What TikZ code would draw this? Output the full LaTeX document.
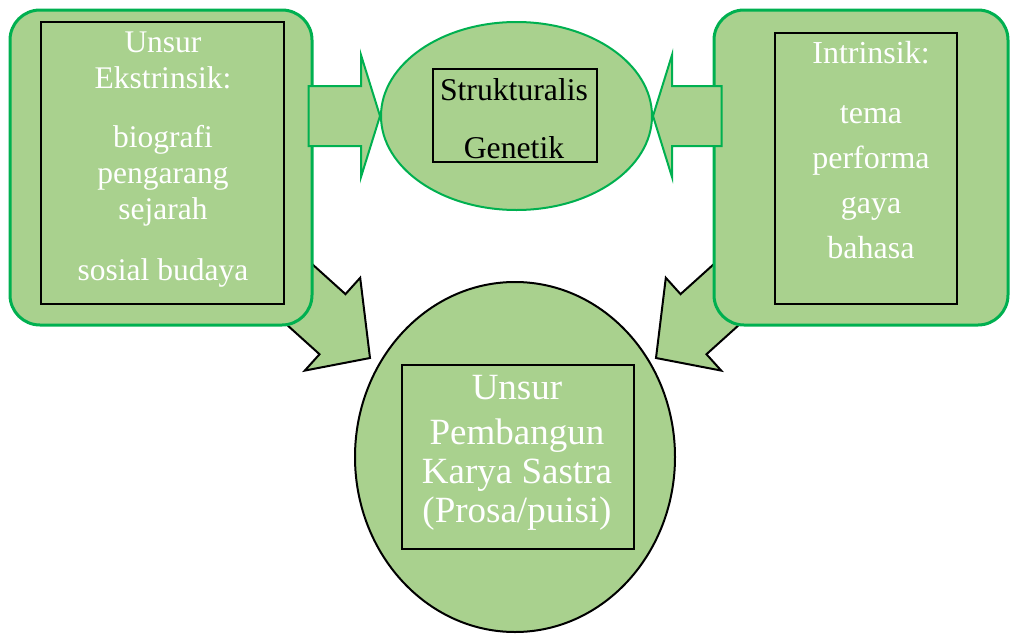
\documentclass[tikz,border=0pt]{standalone}
\usepackage{fontspec}
\setmainfont{Liberation Serif}
\usetikzlibrary{positioning, calc, shapes.geometric, backgrounds}

\definecolor{leafgreen}{HTML}{A9D18E}
\definecolor{rimgreen}{HTML}{00B050}

% block arrow: style, tail, tip, body half width, head half width,
% head length on the left side, head length on the right side
\newcommand{\blockarrow}[7]{%
  \coordinate (ba-p) at ($(#3)!#6!(#2)$);
  \coordinate (ba-m) at ($(#3)!#7!(#2)$);
  \filldraw[#1] ($(#2)!#4!90:(#3)$) -- ($(ba-p)!#4!90:(#3)$)
    -- ($(ba-p)!#5!90:(#3)$) -- (#3) -- ($(ba-m)!#5!-90:(#3)$)
    -- ($(ba-m)!#4!-90:(#3)$) -- ($(#2)!#4!-90:(#3)$) -- cycle;
}

\begin{document}
\begin{tikzpicture}[x=1pt, y=-1pt,
    sidebox/.style={draw=rimgreen, line width=3pt, fill=leafgreen, rounded corners=30pt, inner sep=0pt},
    framebox/.style={draw=black, line width=1.5pt, inner sep=0pt},
    blob/.style={ellipse, fill=leafgreen, line width=2pt, inner sep=0pt},
    whitetext/.style={text=white, align=center, inner sep=0pt, anchor=north},
    greenarrow/.style={fill=leafgreen, draw=rimgreen, line width=2pt},
    blackarrow/.style={fill=leafgreen, draw=black, line width=2pt}]
    \useasboundingbox (0,0) rectangle (1010,635);

    % side boxes
    \node[sidebox, minimum width=302pt, minimum height=315pt] (lbox) at (161,167.5) {};
    \node[framebox, minimum width=243pt, minimum height=282pt] (lframe) at (162.5,163) {};
    \node[whitetext, font=\fontsize{31.5}{36}\selectfont] (ltext) at (163,32)
        {Unsur\\Ekstrinsik:\\[23pt]biografi\\pengarang\\sejarah\\[25pt]sosial budaya};

    \node[sidebox, minimum width=294pt, minimum height=315pt] (rbox) at (861,167.5) {};
    \node[framebox, minimum width=182pt, minimum height=271pt] (rframe) at (866,168.5) {};
    \node[whitetext, font=\fontsize{32}{45}\selectfont] (rtext) at (871,41)
        {Intrinsik:\\[15pt]tema\\performa\\gaya\\bahasa};

    % middle
    \node[blob, draw=rimgreen, minimum width=271pt, minimum height=188pt] (top) at (516.5,116) {};
    \node[framebox, minimum width=164pt, minimum height=93pt] (tframe) at (515,115.5) {};
    \node[whitetext, text=black, font=\fontsize{31.7}{58}\selectfont] (ttext) at (514,78.4)
        {Strukturalis\\Genetik};

    \node[blob, draw=black, minimum width=320pt, minimum height=350pt] (bot) at (515,457) {};
    \node[framebox, minimum width=232pt, minimum height=184pt] (bframe) at (518,457) {};
    \node[whitetext, font=\fontsize{37}{39}\selectfont] (btext) at (517,375.5)
        {Unsur\\[6pt]Pembangun\\Karya Sastra\\(Prosa/puisi)};

    % arrows
    \coordinate (ltail) at ($(lbox.east |- top.west)+(-5,0)$);
    \coordinate (rtail) at ($(rbox.west |- top.east)+(9,0)$);
    \coordinate (ldtail) at ($(lbox.south east)+(-35,-51)$);
    \coordinate (ldtip) at ($(bot.west)+(16,-99)$);
    \coordinate (rdtail) at ($(rbox.south west)+(35,-51)$);
    \coordinate (rdtip) at ($(bot.east)+(-20,-99)$);

    \begin{scope}[on background layer]
        \blockarrow{blackarrow}{ldtail}{ldtip}{31pt}{53pt}{61pt}{40pt}
        \blockarrow{blackarrow}{rdtail}{rdtip}{31pt}{53pt}{40pt}{61pt}
    \end{scope}
    \blockarrow{greenarrow}{ltail}{top.west}{30pt}{61pt}{19pt}{19pt}
    \blockarrow{greenarrow}{rtail}{top.east}{30pt}{61pt}{19pt}{19pt}
\end{tikzpicture}
\end{document}
